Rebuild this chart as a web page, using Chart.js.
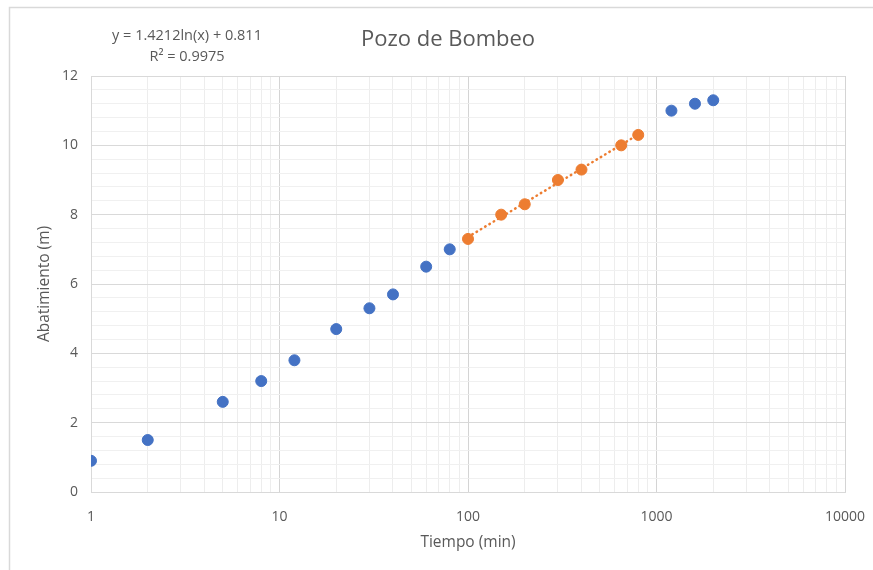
<!DOCTYPE html>
<html>
<head>
<meta charset="utf-8">
<title>Pozo de Bombeo</title>
<script src="https://cdn.jsdelivr.net/npm/chart.js@4.4.1/dist/chart.umd.min.js"></script>
<style>
    body { margin: 0; background: #ffffff; }
    #chartBox { position: relative; width: 873px; height: 570px; }
</style>
</head>
<body>
<div id="chartBox">
    <canvas id="pozoChart" width="873" height="570"></canvas>
</div>
<script>
// Tiempo (min) y abatimiento (m)
const tiempoAzul = [1, 2, 5, 8, 12, 20, 30, 40, 60, 80, 1200, 1600, 2000];
const abatAzul = [0.9, 1.5, 2.6, 3.2, 3.8, 4.7, 5.3, 5.7, 6.5, 7.0, 11.0, 11.2, 11.3];

// Tramo usado para el ajuste
const tiempoNaranja = [100, 150, 200, 300, 400, 650, 800];
const abatNaranja = [7.3, 8.0, 8.3, 9.0, 9.3, 10.0, 10.3];

// Ajuste logaritmico mostrado en el grafico
const pendiente = 1.4212;
const intercepto = 0.811;
const titulo = 'Pozo de Bombeo';
const ecuacion = 'y = 1.4212ln(x) + 0.811';
const r2Texto = 'R² = 0.9975';

const xTickLabels = [1, 10, 100, 1000, 10000];
const yTickLabels = [0, 2, 4, 6, 8, 10, 12];

const textColor = '#595959';
const fontFamily = '"Open Sans", Lato, sans-serif';

function toPoints(xs, ys) {
    return xs.map((x, i) => ({ x: x, y: ys[i] }));
}

// trendline only across the orange range
const tMin = tiempoNaranja[0];
const tMax = tiempoNaranja[tiempoNaranja.length - 1];
const trendPoints = [tMin, tMax].map(t => ({ x: t, y: pendiente * Math.log(t) + intercepto }));

// Chart frame, title and equation text (Excel puts the title off-centre)
const extrasPlugin = {
    id: 'extras',
    beforeDraw(chart) {
        const ctx = chart.ctx;
        ctx.save();
        ctx.fillStyle = '#ffffff';
        ctx.fillRect(0, 0, chart.width, chart.height);
        ctx.strokeStyle = '#d9d9d9';
        ctx.lineWidth = 1.5;
        ctx.beginPath();
        ctx.moveTo(9.5, chart.height);
        ctx.lineTo(9.5, 7.5);
        ctx.lineTo(chart.width, 7.5);
        ctx.stroke();
        ctx.restore();
    },
    afterDraw(chart) {
        const ctx = chart.ctx;
        ctx.save();
        ctx.fillStyle = textColor;
        ctx.textAlign = 'center';
        ctx.textBaseline = 'middle';
        ctx.font = '22px ' + fontFamily;
        ctx.fillText(titulo, 448, 40);
        ctx.font = '14.5px ' + fontFamily;
        ctx.fillText(ecuacion, 187, 36);
        ctx.fillText(r2Texto, 187, 57);
        ctx.restore();
    }
};

const ctx = document.getElementById('pozoChart').getContext('2d');
const chart = new Chart(ctx, {
    type: 'scatter',
    data: {
        datasets: [
            {
                label: 'Ajuste',
                type: 'line',
                data: trendPoints,
                borderColor: '#ED7D31',
                borderWidth: 2.5,
                borderDash: [0.5, 4.5],
                borderCapStyle: 'round',
                pointRadius: 0,
                fill: false,
                order: 3
            },
            {
                label: 'Abatimiento',
                data: toPoints(tiempoAzul, abatAzul),
                backgroundColor: '#4472C4',
                borderColor: '#4472C4',
                pointRadius: 5.5,
                order: 2
            },
            {
                label: 'Tramo recto',
                data: toPoints(tiempoNaranja, abatNaranja),
                backgroundColor: '#ED7D31',
                borderColor: '#ED7D31',
                pointRadius: 5.5,
                order: 1
            }
        ]
    },
    options: {
        responsive: false,
        animation: false,
        devicePixelRatio: 1,
        layout: { padding: { left: 0, right: 28, top: 76, bottom: 0 } },
        plugins: {
            legend: { display: false },
            tooltip: { enabled: false },
            title: { display: false }
        },
        scales: {
            x: {
                type: 'logarithmic',
                min: 1,
                max: 10000,
                afterFit(scale) {
                    scale.height = 78;
                    scale.paddingLeft = 0;
                    scale.paddingRight = 0;
                },
                afterBuildTicks(scale) {
                    const ticks = [];
                    for (let d = 1; d < 10000; d *= 10) {
                        for (let m = 1; m < 10; m++) ticks.push({ value: m * d });
                    }
                    ticks.push({ value: 10000 });
                    scale.ticks = ticks;
                },
                ticks: {
                    autoSkip: false,
                    maxRotation: 0,
                    padding: 17,
                    color: textColor,
                    font: { family: fontFamily, size: 14 },
                    callback: value => xTickLabels.includes(value) ? String(value) : ''
                },
                grid: {
                    drawTicks: false,
                    lineWidth: 1,
                    color: c => (c.tick && xTickLabels.includes(c.tick.value)) ? '#d4d4d4' : '#ededed'
                },
                border: { color: '#d9d9d9' },
                title: {
                    display: true,
                    text: 'Tiempo (min)',
                    color: textColor,
                    font: { family: fontFamily, size: 15.5 },
                    padding: { top: 0, bottom: 18 }
                }
            },
            y: {
                min: 0,
                max: 12,
                afterFit(scale) { scale.width = 91; },
                afterBuildTicks(scale) {
                    const ticks = [];
                    for (let i = 0; i <= 30; i++) ticks.push({ value: Math.round(i * 4) / 10 });
                    scale.ticks = ticks;
                },
                ticks: {
                    autoSkip: false,
                    padding: 13,
                    color: textColor,
                    font: { family: fontFamily, size: 14 },
                    callback: value => yTickLabels.includes(value) ? String(value) : ''
                },
                grid: {
                    drawTicks: false,
                    lineWidth: 1,
                    color: c => (c.tick && yTickLabels.includes(c.tick.value)) ? '#d9d9d9' : '#f0f0f0'
                },
                border: { color: '#d9d9d9' },
                title: {
                    display: true,
                    text: 'Abatimiento (m)',
                    color: textColor,
                    font: { family: fontFamily, size: 15.5 },
                    padding: { top: 35, bottom: 0 }
                }
            }
        }
    },
    plugins: [extrasPlugin]
});
</script>
</body>
</html>
